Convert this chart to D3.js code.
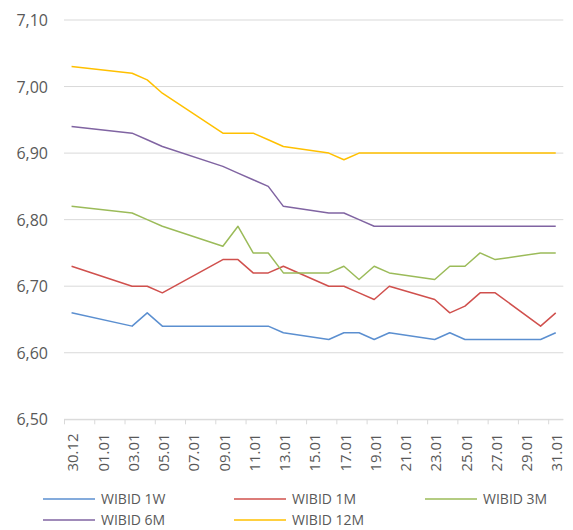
<!DOCTYPE html>
<html>
<head>
<meta charset="utf-8">
<script src="https://cdn.jsdelivr.net/npm/d3@7"></script>
<style>
  html, body { margin: 0; padding: 0; background: #fff; }
  svg { display: block; font-family: "Open Sans", "Noto Sans", sans-serif; }
</style>
</head>
<body>
<svg id="chart" width="573" height="530"></svg>
<script>
// Fixing dates (dd.mm); December belongs to 2022, January to 2023
const dates = ["30.12","03.01","04.01","05.01","09.01","10.01","11.01","12.01","13.01",
  "16.01","17.01","18.01","19.01","20.01","23.01","24.01","25.01","26.01","27.01",
  "30.01","31.01"];

const wibid1W  = [6.66,6.64,6.66,6.64,6.64,6.64,6.64,6.64,6.63,6.62,6.63,6.63,6.62,6.63,6.62,6.63,6.62,6.62,6.62,6.62,6.63];
const wibid1M  = [6.73,6.70,6.70,6.69,6.74,6.74,6.72,6.72,6.73,6.70,6.70,6.69,6.68,6.70,6.68,6.66,6.67,6.69,6.69,6.64,6.66];
const wibid3M  = [6.82,6.81,6.80,6.79,6.76,6.79,6.75,6.75,6.72,6.72,6.73,6.71,6.73,6.72,6.71,6.73,6.73,6.75,6.74,6.75,6.75];
const wibid6M  = [6.94,6.93,6.92,6.91,6.88,6.87,6.86,6.85,6.82,6.81,6.81,6.80,6.79,6.79,6.79,6.79,6.79,6.79,6.79,6.79,6.79];
const wibid12M = [7.03,7.02,7.01,6.99,6.93,6.93,6.93,6.92,6.91,6.90,6.89,6.90,6.90,6.90,6.90,6.90,6.90,6.90,6.90,6.90,6.90];

const seriesNames  = ["WIBID 1W","WIBID 1M","WIBID 3M","WIBID 6M","WIBID 12M"];
const seriesColors = ["#5b8fd0","#d0504d","#9bbb59","#8064a2","#ffc000"];

const xTickLabels = ["30.12","01.01","03.01","05.01","07.01","09.01","11.01","13.01","15.01",
  "17.01","19.01","21.01","23.01","25.01","27.01","29.01","31.01"];
const yTicks = [6.50,6.60,6.70,6.80,6.90,7.00,7.10];

const parseDay = s => {
  const [d, m] = s.split(".").map(Number);
  return m === 12 ? new Date(2022, 11, d) : new Date(2023, m - 1, d);
};

const series = [wibid1W, wibid1M, wibid3M, wibid6M, wibid12M].map((vals, i) => ({
  name: seriesNames[i],
  color: seriesColors[i],
  points: vals.map((v, j) => ({ date: parseDay(dates[j]), value: v }))
}));

const svg = d3.select("#chart");
const plot = { left: 64, right: 563.3, top: 20, bottom: 419.3 };

// Date axis: one slot per calendar day, values drawn at mid-day
const x = d3.scaleTime()
  .domain([new Date(2022, 11, 30), new Date(2023, 1, 1)])
  .range([plot.left, plot.right]);
const y = d3.scaleLinear().domain([6.5, 7.1]).range([plot.bottom, plot.top]);
const halfDay = (x(new Date(2022, 11, 31)) - x(new Date(2022, 11, 30))) / 2;
const mid = d => d3.timeHour.offset(d, 12);

const fmt = v => d3.format(".2f")(v).replace(".", ",");
const textColor = "#595959";
const gridColor = "#d9d9d9";

// Horizontal gridlines
svg.append("g").selectAll("line").data(yTicks).join("line")
  .attr("x1", plot.left).attr("x2", plot.right)
  .attr("y1", d => y(d)).attr("y2", d => y(d))
  .attr("stroke", gridColor).attr("stroke-width", 1);

// Y axis labels
const yAxis = svg.append("g").attr("transform", `translate(${plot.left - 16},0)`)
  .call(d3.axisLeft(y).tickValues(yTicks).tickFormat(fmt).tickSize(0).tickPadding(0));
yAxis.select(".domain").remove();
yAxis.selectAll("text")
  .attr("fill", textColor).attr("font-size", 16).attr("dy", "0.35em")
  .attr("font-family", "'Open Sans', sans-serif");

// X axis with tick marks at day boundaries, labels in the middle of the day
const xTickDates = xTickLabels.map(parseDay);
const xAxis = svg.append("g").attr("transform", `translate(0,${plot.bottom})`)
  .call(d3.axisBottom(x).tickValues(xTickDates).tickSize(5)
    .tickFormat((d, i) => xTickLabels[i]));
xAxis.select(".domain").attr("stroke", gridColor).attr("d", `M${plot.left},0.5H${plot.right}`);
xAxis.selectAll(".tick line").attr("stroke", gridColor);
xAxis.selectAll(".tick text")
  .attr("fill", textColor).attr("font-size", 15)
  .attr("font-family", "'Open Sans', sans-serif")
  .attr("text-anchor", "end")
  .attr("transform", `translate(${halfDay + 1},14) rotate(-90)`)
  .attr("x", 0).attr("y", 0).attr("dy", "0.35em");

// Series lines
const line = d3.line().x(d => x(mid(d.date))).y(d => y(d.value));
svg.append("g").selectAll("path").data(series).join("path")
  .attr("d", d => line(d.points))
  .attr("fill", "none")
  .attr("stroke", d => d.color)
  .attr("stroke-width", 1.5)
  .attr("stroke-linejoin", "round");

// Legend: three entries per row
const legend = svg.append("g");
const colX = [43, 234, 425];
const rowY = [499, 520];
series.forEach((s, i) => {
  const gx = colX[i % 3], gy = rowY[Math.floor(i / 3)];
  const g = legend.append("g").attr("transform", `translate(${gx},${gy})`);
  g.append("line").attr("x1", 0).attr("x2", 52).attr("y1", 0).attr("y2", 0)
    .attr("stroke", s.color).attr("stroke-width", 1.5);
  g.append("text").attr("x", 58).attr("y", 0).attr("dy", "0.35em")
    .attr("fill", textColor).attr("font-size", 14).text(s.name);
});
</script>
</body>
</html>
